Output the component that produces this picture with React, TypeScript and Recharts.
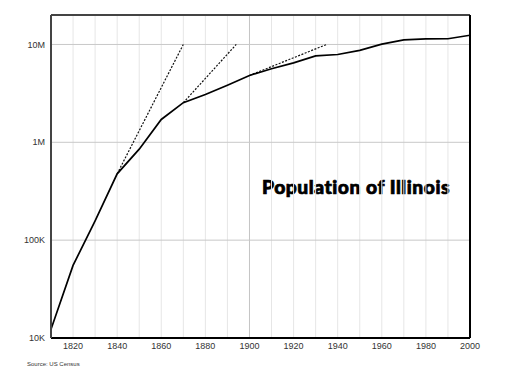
// Population of Illinois, 1810–2000, on a log scale, with three dotted
// growth-rate projections run out to 10M.

import {
  Customized,
  Line,
  LineChart,
  ReferenceLine,
  XAxis,
  YAxis,
} from "recharts";

const years = [
  1810, 1820, 1830, 1840, 1850, 1860, 1870, 1880, 1890, 1900, 1910, 1920,
  1930, 1940, 1950, 1960, 1970, 1980, 1990, 2000,
];
const population = [
  12282, 55211, 157445, 476183, 851470, 1711951, 2539891, 3077871, 3826352,
  4821550, 5638591, 6485280, 7630654, 7897241, 8712176, 10081158, 11113976,
  11426518, 11430602, 12419293,
];

// dotted projections: [start year, end year] / [start pop, end pop]
const proj1Years = [1840, 1870];
const proj1Values = [476183, 10000000];
const proj2Years = [1870, 1894];
const proj2Values = [2539891, 10000000];
const proj3Years = [1900, 1935];
const proj3Values = [4821550, 10000000];

const xTicks = [1820, 1840, 1860, 1880, 1900, 1920, 1940, 1960, 1980, 2000];
const gridYears = [
  1820, 1830, 1840, 1850, 1860, 1870, 1880, 1890, 1900, 1910, 1920, 1930,
  1940, 1950, 1960, 1970, 1980, 1990,
];
const yTicks = [10000, 100000, 1000000, 10000000];
const yLabels = ["10K", "100K", "1M", "10M"];

const FONT = "'Liberation Sans', Arial, sans-serif";
const TICK = { fontSize: 9, fill: "#333", fontFamily: FONT };

type Row = { year: number; pop?: number; p1?: number; p2?: number; p3?: number };

function buildRows(): Row[] {
  const map = new Map<number, Row>();
  const get = (y: number) => {
    if (!map.has(y)) map.set(y, { year: y });
    return map.get(y)!;
  };
  years.forEach((y, i) => (get(y).pop = population[i]));
  proj1Years.forEach((y, i) => (get(y).p1 = proj1Values[i]));
  proj2Years.forEach((y, i) => (get(y).p2 = proj2Values[i]));
  proj3Years.forEach((y, i) => (get(y).p3 = proj3Values[i]));
  return [...map.values()].sort((a, b) => a.year - b.year);
}

const rows = buildRows();

function Title() {
  return (
    <g>
      <text
        x={262}
        y={194}
        textLength={188}
        lengthAdjust="spacingAndGlyphs"
        fontFamily="Lato, 'DejaVu Sans', sans-serif"
        fontWeight={900}
        fontSize={18}
        fill="#000"
        stroke="#000"
        strokeWidth={0.7}
        letterSpacing={0.5}
      >
        Population of Illinois
      </text>
      <text x={27} y={366} fontFamily={FONT} fontSize={6} fill="#333">
        Source: US Census
      </text>
    </g>
  );
}

export default function App() {
  return (
    <div style={{ position: "absolute", left: 0, top: 0, width: 512, height: 384, background: "#fff" }}>
      <LineChart
        width={512}
        height={384}
        data={rows}
        margin={{ top: 15, right: 42, bottom: 26, left: 0 }}
      >
        <XAxis
          dataKey="year"
          type="number"
          domain={[1810, 2000]}
          ticks={xTicks}
          tick={TICK}
          tickLine={false}
          tickSize={2}
          tickMargin={3}
          height={20}
          axisLine={{ stroke: "#000", strokeWidth: 2 }}
          allowDataOverflow
        />
        <YAxis
          scale="log"
          domain={[10000, 20000000]}
          ticks={yTicks}
          tickFormatter={(v: number) => yLabels[yTicks.indexOf(v)] ?? ""}
          tick={TICK}
          tickLine={false}
          tickSize={4}
          tickMargin={2}
          width={51}
          axisLine={{ stroke: "#444", strokeWidth: 2 }}
          allowDataOverflow
        />
        {gridYears.map((y) => (
          <ReferenceLine
            key={y}
            x={y}
            stroke={y === 1900 ? "#c4c4c4" : "#e6e6e6"}
            strokeWidth={1}
          />
        ))}
        {yTicks.slice(1).map((v) => (
          <ReferenceLine key={v} y={v} stroke="#c8c8c8" strokeWidth={1} />
        ))}
        <ReferenceLine y={20000000} stroke="#444" strokeWidth={2} />
        <ReferenceLine x={2000} stroke="#000" strokeWidth={2} />
        <Line
          dataKey="p1"
          stroke="#111"
          strokeWidth={1.2}
          strokeDasharray="2 1.5"
          dot={false}
          connectNulls
          isAnimationActive={false}
        />
        <Line
          dataKey="p2"
          stroke="#111"
          strokeWidth={1.2}
          strokeDasharray="2 1.5"
          dot={false}
          connectNulls
          isAnimationActive={false}
        />
        <Line
          dataKey="p3"
          stroke="#111"
          strokeWidth={1.2}
          strokeDasharray="2 1.5"
          dot={false}
          connectNulls
          isAnimationActive={false}
        />
        <Line
          dataKey="pop"
          stroke="#000"
          strokeWidth={1.7}
          dot={false}
          connectNulls
          isAnimationActive={false}
        />
        <Customized component={Title} />
      </LineChart>
    </div>
  );
}
